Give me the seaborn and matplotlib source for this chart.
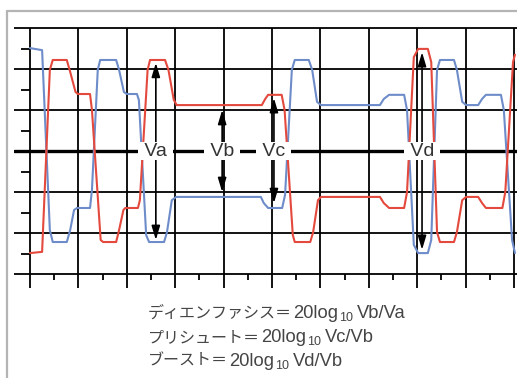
import numpy as np
import pandas as pd
import matplotlib
matplotlib.use("Agg")
import matplotlib.pyplot as plt
from matplotlib.lines import Line2D
import seaborn as sns

# scope traces, time and level both in screen divisions
blue_t = [0.00, 0.25, 0.41, 0.47, 0.76, 0.83, 0.91, 0.97, 1.24, 1.28, 1.40, 1.45,
          1.78, 1.84, 1.94, 2.00, 2.21, 2.25, 2.40, 2.46, 2.77, 2.83, 2.93, 3.02,
          4.77, 4.83, 4.92, 5.21, 5.27, 5.41, 5.47, 5.76, 5.83, 5.93, 6.01, 7.23,
          7.31, 7.42, 7.73, 7.79, 7.93, 8.02, 8.22, 8.29, 8.41, 8.47, 8.76, 8.82,
          8.93, 9.01, 9.26, 9.34, 9.42, 9.73, 9.79, 9.96, 10.02]
blue_v = [2.51, 2.46, -1.93, -2.22, -2.22, -1.93, -1.44, -1.39, -1.39, -0.95, 1.98, 2.22,
          2.22, 1.98, 1.44, 1.39, 1.39, 1.24, -2.05, -2.22, -2.22, -1.98, -1.20, -1.12,
          -1.12, -1.27, -1.39, -1.39, -1.07, 1.98, 2.22, 2.22, 1.98, 1.20, 1.12, 1.12,
          1.27, 1.37, 1.37, 1.00, -2.29, -2.49, -2.49, -2.17, 1.98, 2.22, 2.22, 1.98,
          1.20, 1.12, 1.12, 1.27, 1.37, 1.37, 1.00, -2.17, -2.49]

red_t = [0.00, 0.25, 0.41, 0.47, 0.76, 0.83, 0.94, 0.99, 1.24, 1.28, 1.46, 1.51,
         1.78, 1.84, 1.93, 1.97, 2.23, 2.27, 2.43, 2.48, 2.79, 2.86, 2.97, 3.03,
         4.79, 4.86, 4.92, 5.20, 5.26, 5.43, 5.47, 5.79, 5.85, 5.95, 6.01, 7.23,
         7.31, 7.42, 7.73, 7.79, 7.93, 8.02, 8.22, 8.29, 8.41, 8.47, 8.76, 8.82,
         8.93, 9.01, 9.26, 9.34, 9.42, 9.76, 9.82, 9.98, 10.02]
red_v = [-2.49, -2.46, 1.98, 2.22, 2.22, 1.93, 1.44, 1.39, 1.39, 1.00, -2.17, -2.22,
         -2.22, -1.93, -1.44, -1.39, -1.39, -1.20, 1.98, 2.22, 2.22, 1.98, 1.25, 1.12,
         1.12, 1.27, 1.37, 1.37, 1.00, -2.05, -2.22, -2.22, -1.98, -1.20, -1.12, -1.12,
         -1.27, -1.39, -1.39, -1.00, 2.29, 2.49, 2.49, 2.17, -1.98, -2.22, -2.22, -1.98,
         -1.20, -1.12, -1.12, -1.27, -1.39, -1.39, -1.00, 2.17, 2.35]

# measurement arrows
arrow_names = ["Va", "Vb", "Vc", "Vd"]
arrow_x = [2.60, 3.97, 5.04, 8.10]
arrow_top = [2.15, 1.00, 1.29, 2.41]
arrow_bottom = [-2.17, -1.00, -1.27, -2.41]

# formulas under the screen
formula_names = ["ディエンファシス＝", "プリシュート＝", "ブースト＝"]
formula_logs = ["20log", "20log", "20log"]
formula_subs = ["10", "10", "10"]
formula_ratios = ["Vb/Va", "Vc/Vb", "Vd/Vb"]

sns.set_style("white")
plt.rcParams['font.family'] = ['Liberation Sans', 'Noto Sans CJK JP', 'DejaVu Sans']

fig = plt.figure(figsize=(5.17, 3.78), dpi=100)
ax = fig.add_axes([14/517, 88/378, 503/517, 264/378])
ax.set_xlim(-16/48.4, 487/48.4)
ax.set_ylim(-3 - 16/41, 3 + 2/41)
ax.axis('off')

# scope graticule
for y in range(-3, 4):
    ax.axhline(y, color='black', lw=2.4 if y == 0 else 1.3, zorder=1)
ax.vlines(np.arange(0, 11), -3 - 14/41, 3, color='black', lw=1.3, zorder=1)
ax.vlines(np.arange(0.5, 10, 1), -3, -3 - 6/41, color='black', lw=1.3, zorder=1)
ax.hlines(np.arange(-2.5, 3, 1), -9/48.4, 0, color='black', lw=1.3, zorder=1)

df_blue = pd.DataFrame({'t': blue_t, 'v': blue_v})
df_red = pd.DataFrame({'t': red_t, 'v': red_v})
sns.lineplot(data=df_blue, x='t', y='v', color='#6d8cc9', lw=1.5, ax=ax,
             estimator=None, sort=False, zorder=3)
sns.lineplot(data=df_red, x='t', y='v', color='#e4493d', lw=1.5, ax=ax,
             estimator=None, sort=False, zorder=3)

for name, x, top, bot in zip(arrow_names, arrow_x, arrow_top, arrow_bottom):
    ax.annotate('', xy=(x, top), xytext=(x, bot),
                arrowprops=dict(arrowstyle='<|-|>,head_length=0.6,head_width=0.18',
                                color='black', lw=1.2, mutation_scale=14,
                                shrinkA=0, shrinkB=0), zorder=4)
    ax.text(x, 0, f" {name} ", ha='center', va='center', fontsize=14, color='#333333',
            bbox=dict(facecolor='white', edgecolor='none', pad=0.5), zorder=5)

# formulas, built piece by piece on a shared baseline
txt = dict(color='#454545', va='baseline', ha='left')
baselines = [1 - 318/378, 1 - 342/378, 1 - 366/378]
jp_texts, latin_texts, log_texts = [], [], []
for name, log, sub, ratio, yb in zip(formula_names, formula_logs, formula_subs,
                                     formula_ratios, baselines):
    t1 = fig.text(148/517, yb, name, fontsize=11.1, family='Noto Sans CJK JP', **txt)
    t2 = ax.annotate(log, xy=(1, yb), xycoords=(t1, 'figure fraction'),
                     xytext=(0.8, 0), textcoords='offset points',
                     fontsize=13.2, annotation_clip=False, **txt)
    t3 = ax.annotate(sub, xy=(1, yb), xycoords=(t2, 'figure fraction'),
                     xytext=(0.4, -2.2), textcoords='offset points',
                     fontsize=9, annotation_clip=False, **txt)
    t4 = ax.annotate(ratio, xy=(1, yb), xycoords=(t3, 'figure fraction'),
                     xytext=(3.4, 0), textcoords='offset points',
                     fontsize=13.2, annotation_clip=False, **txt)
    jp_texts.append(t1)
    log_texts.append(t2)
    latin_texts += [t2, t4]

# size the two scripts to the widths seen in the original (line 1)
fig.canvas.draw()
r = fig.canvas.get_renderer()
jp_w = jp_texts[0].get_window_extent(r).width
latin_w = log_texts[0].get_window_extent(r).width + latin_texts[1].get_window_extent(r).width
for t in jp_texts:
    t.set_fontsize(11.1 * 144 / jp_w)
for t in latin_texts:
    t.set_fontsize(13.2 * 94 / latin_w)

# outer frame
fig.add_artist(Line2D([7/517, 1], [1 - 11/378, 1 - 11/378], color='#b4b4b4', lw=1.6,
                      transform=fig.transFigure))
fig.add_artist(Line2D([7/517, 7/517], [0, 1 - 11/378], color='#b4b4b4', lw=1.6,
                      transform=fig.transFigure))

fig.savefig('out.png', dpi=100)
